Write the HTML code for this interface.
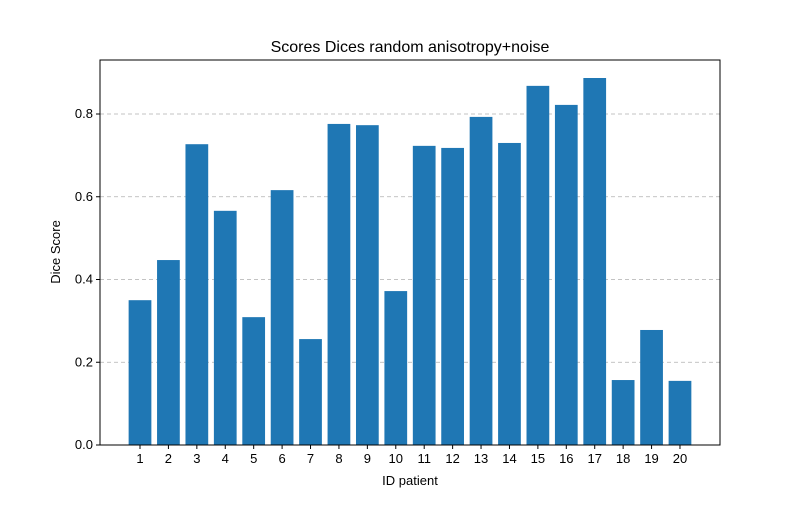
<!DOCTYPE html>
<html><head><meta charset="utf-8"><style>
body{margin:0;background:#fff}
svg text{font-family:"Liberation Sans","DejaVu Sans",sans-serif;fill:#000}
</style></head><body>
<svg id="chart" width="800" height="500" xmlns="http://www.w3.org/2000/svg">
<rect width="800" height="500" fill="#fff"/>
<g id="grid"></g>
<g id="bars"></g>
<g id="axes"></g>
<text x="410" y="52" text-anchor="middle" font-size="16">Scores Dices random anisotropy+noise</text>
<text x="410" y="485" text-anchor="middle" font-size="13">ID patient</text>
<text transform="translate(60,252) rotate(-90)" text-anchor="middle" font-size="13">Dice Score</text>
</svg>
<script>
const categories=[1,2,3,4,5,6,7,8,9,10,11,12,13,14,15,16,17,18,19,20];
const values=[0.350,0.447,0.727,0.566,0.309,0.616,0.256,0.776,0.773,0.372,0.723,0.718,0.793,0.730,0.868,0.822,0.887,0.157,0.278,0.155];
const yTicks=[0.0,0.2,0.4,0.6,0.8];
const yTickLabels=["0.0","0.2","0.4","0.6","0.8"];

const L=100,R=720,T=60,B=445;
const ymax=(B-T)/413.75;
const y=v=>B-v/ymax*(B-T);
const step=28.42;
const x=c=>140+(c-1)*step;
const NS="http://www.w3.org/2000/svg";
function mk(tag,attrs,parent){const e=document.createElementNS(NS,tag);for(const k in attrs)e.setAttribute(k,attrs[k]);parent.appendChild(e);return e;}
const grid=document.getElementById('grid'),bars=document.getElementById('bars'),axes=document.getElementById('axes');
yTicks.forEach((t,i)=>{
  if(t>0){const g=mk('line',{x1:L,x2:R,y1:y(t),y2:y(t),stroke:'#b0b0b0','stroke-width':0.8,'stroke-dasharray':'4,3'},grid);
  
  }
  const tk=mk('line',{x1:L-4,x2:L,y1:y(t),y2:y(t),stroke:'#000'},axes);
  
  
  const lb=mk('text',{x:L-7,y:y(t)+4,'text-anchor':'end','font-size':13},axes);lb.textContent=yTickLabels[i];
  
  
});
categories.forEach((c,i)=>{
  const w=0.8*step;
  const b=mk('rect',{x:x(c)-w/2,y:y(values[i]),width:w,height:B-y(values[i]),fill:'#1f77b4'},bars);
  
  
  const tk=mk('line',{x1:x(c),x2:x(c),y1:B,y2:B+4,stroke:'#000'},axes);
  
  
  const lb=mk('text',{x:x(c),y:B+18,'text-anchor':'middle','font-size':13},axes);lb.textContent=c;
  
  
});
const fr=mk('rect',{x:L,y:T,width:R-L,height:B-T,fill:'none',stroke:'#000','stroke-width':1},axes);


</script>
</body></html>
